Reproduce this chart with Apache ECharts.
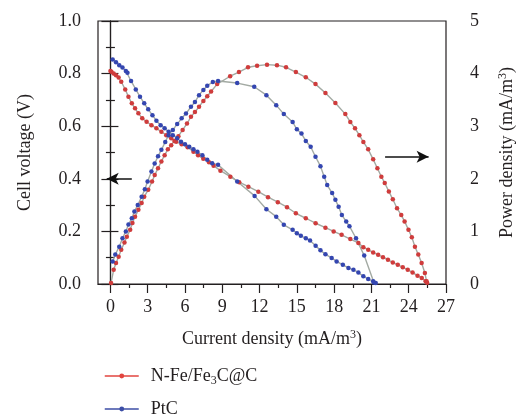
<!DOCTYPE html>
<html>
<head>
<meta charset="utf-8">
<script src="https://cdn.jsdelivr.net/npm/echarts@6/dist/echarts.min.js"></script>
<style>
  html, body { margin: 0; padding: 0; background: #fff; }
  #chart { width: 524px; height: 419px; }
</style>
</head>
<body>
<div id="chart"></div>
<script>
// Axis tick values
const xLabelTicks = [0, 3, 6, 9, 12, 15, 18, 21, 24, 27];
const xMinorTicks = [1.5, 4.5, 7.5, 10.5, 13.5, 16.5, 19.5, 22.5, 25.5];
const voltTicks = [0, 0.2, 0.4, 0.6, 0.8, 1.0];
const powerTicks = [0, 1, 2, 3, 4, 5];

// Series names
const catalystNames = ['N-Fe/Fe3C@C', 'PtC'];

// N-Fe/Fe3C@C polarization: current density vs cell voltage
const nfeVoltX = [0.0, 0.08, 0.26, 0.45, 0.66, 0.87, 1.19, 1.45, 1.72, 1.98, 2.25, 2.56, 2.91, 3.30, 3.70, 4.10,
  4.49, 4.89, 5.29, 5.73, 6.21, 6.68, 7.05, 7.47, 7.93, 8.30, 8.85, 9.65, 10.36, 11.10, 11.90, 12.68, 13.47,
  14.21, 14.92, 15.72, 16.51, 17.30, 17.96, 18.60, 19.30, 19.95, 20.35, 20.74, 21.14, 21.54, 21.93, 22.33,
  22.72, 23.12, 23.52, 23.92, 24.31, 24.71, 25.05, 25.36, 25.48];
const nfeVolt = [0.810, 0.807, 0.800, 0.794, 0.785, 0.769, 0.740, 0.712, 0.687, 0.668, 0.649, 0.630, 0.617, 0.604,
  0.592, 0.579, 0.566, 0.554, 0.541, 0.531, 0.520, 0.503, 0.490, 0.476, 0.463, 0.450, 0.431, 0.408, 0.387,
  0.370, 0.351, 0.330, 0.311, 0.292, 0.269, 0.250, 0.231, 0.214, 0.200, 0.187, 0.171, 0.156, 0.140, 0.130,
  0.120, 0.111, 0.102, 0.092, 0.082, 0.073, 0.064, 0.054, 0.044, 0.031, 0.023, 0.010, 0.005];

// N-Fe/Fe3C@C power density
const nfePowerX = [0.05, 0.26, 0.45, 0.66, 0.87, 1.13, 1.32, 1.59, 1.77, 1.98, 2.25, 2.51, 2.72, 3.04, 3.35, 3.56,
  3.83, 4.10, 4.36, 4.62, 4.89, 5.15, 5.47, 5.81, 6.16, 6.48, 6.80, 7.13, 7.48, 7.79, 8.10, 8.59, 9.63, 10.34,
  11.07, 11.80, 12.60, 13.40, 14.13, 14.92, 15.72, 16.50, 17.30, 18.10, 18.90, 19.30, 19.68, 20.03, 20.35,
  20.74, 21.14, 21.48, 21.80, 22.07, 22.40, 22.72, 23.06, 23.40, 23.67, 23.98, 24.25, 24.50, 24.77, 25.04,
  25.30, 25.44];
const nfePower = [0.02, 0.27, 0.40, 0.52, 0.65, 0.79, 0.90, 1.03, 1.16, 1.28, 1.41, 1.54, 1.66, 1.79, 1.95, 2.07,
  2.20, 2.33, 2.45, 2.56, 2.64, 2.72, 2.81, 2.93, 3.05, 3.18, 3.27, 3.37, 3.48, 3.57, 3.66, 3.80, 3.95, 4.03,
  4.12, 4.15, 4.17, 4.16, 4.12, 4.03, 3.93, 3.80, 3.63, 3.44, 3.23, 3.08, 2.96, 2.83, 2.70, 2.56, 2.37, 2.20,
  2.04, 1.92, 1.76, 1.61, 1.44, 1.31, 1.19, 1.03, 0.89, 0.71, 0.56, 0.40, 0.21, 0.05];

// PtC polarization
const ptcVoltX = [0.18, 0.45, 0.71, 0.97, 1.24, 1.37, 1.66, 2.04, 2.38, 2.72, 3.04, 3.38, 3.70, 4.04, 4.36, 4.68,
  5.02, 5.37, 5.68, 6.00, 6.34, 6.68, 7.00, 7.40, 7.79, 8.19, 8.66, 10.20, 11.60, 12.55, 13.34, 13.95, 14.66,
  15.00, 15.32, 15.72, 16.06, 16.51, 16.90, 17.30, 17.80, 18.20, 18.70, 19.15, 19.55, 19.95, 20.35, 20.74,
  21.14, 21.35];
const ptcVolt = [0.854, 0.843, 0.832, 0.823, 0.810, 0.803, 0.772, 0.740, 0.712, 0.687, 0.664, 0.642, 0.621, 0.604,
  0.592, 0.579, 0.566, 0.554, 0.541, 0.531, 0.522, 0.512, 0.503, 0.490, 0.472, 0.459, 0.453, 0.390, 0.335,
  0.284, 0.256, 0.225, 0.206, 0.193, 0.183, 0.174, 0.165, 0.145, 0.128, 0.113, 0.099, 0.086, 0.073, 0.061,
  0.054, 0.044, 0.029, 0.019, 0.010, 0.004];

// PtC power density
const ptcPowerX = [0.18, 0.39, 0.71, 0.97, 1.24, 1.45, 1.72, 1.93, 2.20, 2.51, 2.77, 2.99, 3.30, 3.56, 3.83, 4.10,
  4.41, 4.68, 5.02, 5.37, 5.73, 6.08, 6.48, 6.80, 7.13, 7.48, 7.79, 8.24, 8.66, 10.20, 11.57, 12.55, 13.34,
  13.95, 14.66, 15.00, 15.37, 15.72, 16.11, 16.50, 16.90, 17.20, 17.44, 17.84, 18.10, 18.36, 18.62, 18.97,
  19.23, 19.76, 20.42, 21.20];
const ptcPower = [0.43, 0.56, 0.71, 0.87, 1.00, 1.13, 1.25, 1.38, 1.50, 1.66, 1.80, 1.95, 2.14, 2.29, 2.43, 2.55,
  2.70, 2.83, 2.93, 3.04, 3.15, 3.24, 3.37, 3.46, 3.59, 3.69, 3.77, 3.84, 3.86, 3.82, 3.75, 3.59, 3.40, 3.23,
  3.08, 2.94, 2.86, 2.72, 2.61, 2.42, 2.24, 2.04, 1.88, 1.73, 1.60, 1.47, 1.31, 1.19, 1.10, 0.87, 0.54, 0.03];

// Axis-pointing arrows (voltage axis on the left, power axis on the right)
const voltArrow = { from: [1.72, 0.4], to: [-0.3, 0.4] };
const powerArrow = { from: [22.1, 2.42], to: [25.6, 2.42] };

const FONT = 'Liberation Serif';
const INK = '#231f20';
const RED = '#cf3c3c';
const BLUE = '#3446b0';
const RED_LEG = '#e2453f';
const BLUE_LEG = '#3c4ea6';
const LINK = '#a3aaa3';

const zip = (xs, ys) => xs.map((x, i) => [x, ys[i]]);

const arrowLine = (a) => ({
  silent: true,
  animation: false,
  symbol: ['none', 'arrow'],
  symbolSize: [9, 12],
  lineStyle: { color: '#111', width: 1.5, type: 'solid' },
  label: { show: false },
  emphasis: { disabled: true },
  data: [[{ coord: a.from }, { coord: a.to }]]
});

function curve(name, xs, ys, color, yIndex, extra) {
  return Object.assign({
    name: name,
    type: 'line',
    xAxisIndex: 0,
    yAxisIndex: yIndex,
    data: zip(xs, ys),
    symbol: 'circle',
    symbolSize: 4.5,
    showSymbol: true,
    itemStyle: { color: color },
    lineStyle: { color: LINK, width: 1.4 },
    emphasis: { disabled: true },
    animation: false
  }, extra || {});
}

const baseText = { fontFamily: FONT, fontSize: 18, color: INK };
const supStyle = { fontFamily: FONT, fontSize: 12, color: INK, verticalAlign: 'top', lineHeight: 20 };

// One legend block per catalyst, stacked under the plot
function legendRow(idx, color, top) {
  return {
    left: 104,
    top: top,
    padding: 0,
    itemWidth: 34,
    itemHeight: 6,
    selectedMode: false,
    data: [{ name: catalystNames[idx], itemStyle: { color: color }, lineStyle: { color: color, width: 1.5 } }],
    formatter: (n) => n === catalystNames[0] ? 'N-Fe/Fe{sub|3}C@C' : n,
    textStyle: Object.assign({}, baseText, {
      lineHeight: 22,
      padding: [0, 0, 0, 7],
      rich: { sub: { fontFamily: FONT, fontSize: 12, color: INK, verticalAlign: 'bottom', lineHeight: 12 } }
    })
  };
}

const chart = echarts.init(document.getElementById('chart'), null, { renderer: 'canvas' });
chart.setOption({
  backgroundColor: '#fff',
  animation: false,
  grid: {
    left: 98, right: 72, top: 21, bottom: 135,
    show: true, borderColor: INK, borderWidth: 1.2, backgroundColor: 'transparent'
  },
  legend: [legendRow(0, RED_LEG, 365), legendRow(1, BLUE_LEG, 398)],
  xAxis: [
    {
      type: 'value', min: -1, max: 27, position: 'bottom',
      name: 'Current density (mA/m{sup|3})',
      nameLocation: 'middle', nameGap: 45,
      nameTextStyle: Object.assign({}, baseText, { rich: { sup: supStyle } }),
      axisLine: { show: true, lineStyle: { color: INK, width: 1.2 } },
      axisTick: { show: true, length: 9, customValues: xLabelTicks, lineStyle: { color: INK, width: 1.2 } },
      axisLabel: { show: true, customValues: xLabelTicks, margin: 14, fontFamily: FONT, fontSize: 18, color: INK },
      splitLine: { show: false }
    },
    {
      type: 'value', min: -1, max: 27, position: 'bottom', gridIndex: 0,
      axisLine: { show: false },
      axisTick: { show: true, length: 4, customValues: xMinorTicks, lineStyle: { color: INK, width: 1.2 } },
      axisLabel: { show: false },
      splitLine: { show: false }
    }
  ],
  yAxis: [
    {
      type: 'value', min: voltTicks[0], max: voltTicks[voltTicks.length - 1], interval: 0.2, position: 'left',
      name: 'Cell voltage (V)', nameLocation: 'middle', nameGap: 64, nameRotate: 90,
      nameTextStyle: baseText,
      axisLine: { show: true, lineStyle: { color: INK, width: 1.2 } },
      axisTick: { show: true, length: 9, lineStyle: { color: INK, width: 1.2 } },
      minorTick: { show: true, splitNumber: 2, length: 4.5, lineStyle: { color: INK, width: 1.2 } },
      axisLabel: { margin: 17, fontFamily: FONT, fontSize: 18, color: INK, formatter: (v) => v.toFixed(1) },
      splitLine: { show: false }
    },
    {
      type: 'value', min: powerTicks[0], max: powerTicks[powerTicks.length - 1], interval: 1, position: 'right',
      name: 'Power density (mA/m{sup|3})', nameLocation: 'middle', nameGap: 51, nameRotate: 90,
      nameTextStyle: Object.assign({}, baseText, { rich: { sup: supStyle } }),
      axisLine: { show: true, lineStyle: { color: INK, width: 1.2 } },
      axisTick: { show: true, length: 8, lineStyle: { color: INK, width: 1.2 } },
      minorTick: { show: true, splitNumber: 2, length: 4.5, lineStyle: { color: INK, width: 1.2 } },
      axisLabel: { margin: 24, fontFamily: FONT, fontSize: 18, color: INK },
      splitLine: { show: false }
    }
  ],
  series: [
    curve(catalystNames[0], nfeVoltX, nfeVolt, RED, 0, { markLine: arrowLine(voltArrow) }),
    curve(catalystNames[0], nfePowerX, nfePower, RED, 1, { markLine: arrowLine(powerArrow) }),
    curve(catalystNames[1], ptcVoltX, ptcVolt, BLUE, 0),
    curve(catalystNames[1], ptcPowerX, ptcPower, BLUE, 1)
  ]
});
</script>
</body>
</html>
